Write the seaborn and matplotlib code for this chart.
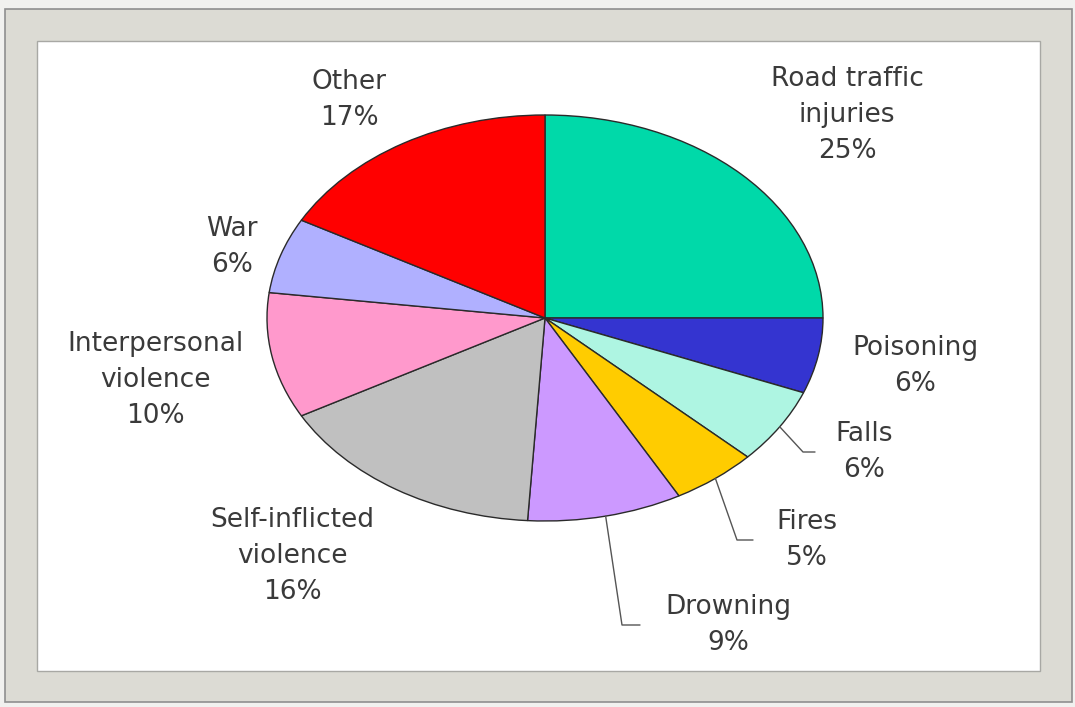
import numpy as np
import seaborn as sns
import matplotlib.pyplot as plt
from matplotlib.patches import Rectangle

causes = ['Road traffic\ninjuries', 'Poisoning', 'Falls', 'Fires', 'Drowning',
          'Self-inflicted\nviolence', 'Interpersonal\nviolence', 'War', 'Other']
shares = [25, 6, 6, 5, 9, 16, 10, 6, 17]
colors = ['#00d9a9', '#3434d0', '#aef5e2', '#ffcc00', '#cc99ff',
          '#c0c0c0', '#ff99cc', '#b0b0ff', '#ff0000']

sns.set_style("white")
plt.rcParams['font.family'] = ['DejaVu Sans']

W, H = 1075, 707
fig = plt.figure(figsize=(W / 100, H / 100), dpi=100)
fig.patch.set_facecolor('#f1f1ef')

# picture frame
fig.add_artist(Rectangle((5 / W, 5 / H), 1067 / W, 693 / H, transform=fig.transFigure,
                         facecolor='#dcdbd4', edgecolor='#8f8f8f', lw=1.2, zorder=-2))
fig.add_artist(Rectangle((37 / W, 36 / H), 1003 / W, 630 / H, transform=fig.transFigure,
                         facecolor='white', edgecolor='#a8a8a4', lw=1.0, zorder=-1))

# pie centre and radii in pixels (elliptical pie)
cx, cy, rx, ry = 545, 318, 278, 203
ax = fig.add_axes([(cx - rx) / W, (H - cy - ry) / H, 2 * rx / W, 2 * ry / H])
ax.patch.set_alpha(0)

wedges, _ = ax.pie(shares, colors=colors, startangle=90, counterclock=False,
                   wedgeprops=dict(edgecolor='#2a2a2a', linewidth=1.0))
ax.set_aspect('auto')
ax.set_xlim(-1, 1)
ax.set_ylim(-1, 1)
ax.axis('off')


def px(x, y):
    return (x - cx) / rx, (cy - y) / ry


# label block centres (pixels)
label_pos = [(847, 115), (915, 366), (864, 452), (807, 540), (728, 625),
             (292, 556), (155, 380), (232, 247), (349, 100)]

for name, s, (lx, ly) in zip(causes, shares, label_pos):
    tx, ty = px(lx, ly)
    ax.text(tx, ty, f"{name}\n{s}%", ha='center', va='center', fontsize=19,
            color='#3a3a3a', linespacing=1.5, clip_on=False)

# leader lines for small slices
elbows = {2: [(803, 452), (815, 452)],
          3: [(737, 540), (753, 540)],
          4: [(622, 625), (640, 625)]}
for i, pts in elbows.items():
    w = wedges[i]
    mid = np.deg2rad((w.theta1 + w.theta2) / 2)
    xs = [np.cos(mid)] + [px(*p)[0] for p in pts]
    ys = [np.sin(mid)] + [px(*p)[1] for p in pts]
    ax.plot(xs, ys, color='#555555', lw=1.0, clip_on=False)

fig.savefig('out.png', dpi=100)
